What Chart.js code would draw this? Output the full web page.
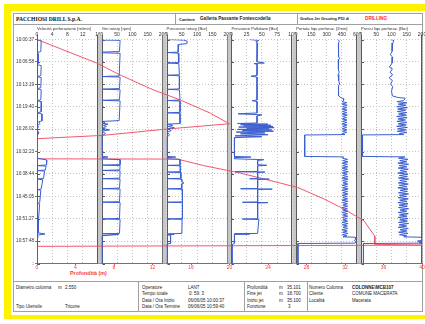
<!DOCTYPE html>
<html>
<head>
<meta charset="utf-8">
<script src="https://cdn.jsdelivr.net/npm/chart.js@4.4.1/dist/chart.umd.min.js"></script>
<style>
  body { margin: 0; width: 425px; height: 324px; overflow: hidden; background: #fff; position: relative; font-family: "Liberation Sans", Arial, sans-serif; }
  #yellow { position: absolute; left: 4px; top: 4px; right: 0; bottom: 5px; background: #fff200; }
  #sheet { position: absolute; left: 11px; top: 11px; right: 0; bottom: 9px; background: #fff; }
  #box { position: absolute; left: 13px; top: 13px; width: 410px; height: 299px; border: 1px solid #a0a0a0; box-sizing: border-box; }
  .rule { position: absolute; background: #a0a0a0; }
  .t { position: absolute; white-space: nowrap; line-height: 1; font-size: 4.5px; color: #222; }
  .b { font-weight: bold; }
  canvas { position: absolute; left: 0; top: 0; }
</style>
</head>
<body>
<div id="yellow"></div>
<div id="sheet"></div>
<div id="box"></div>

<!-- header -->
<div class="rule" style="left:13px;top:24px;width:410px;height:1px"></div>
<div class="rule" style="left:175px;top:13px;width:1px;height:11px"></div>
<div class="rule" style="left:297px;top:13px;width:1px;height:11px"></div>
<div class="t b" style="left:16px;top:16.5px;font-size:5.6px;font-family:'Liberation Serif',serif;color:#111">PACCHIOSI DRILL S.p.A.</div>
<div class="t b" style="left:179px;top:17.5px;font-size:4px">Cantiere</div>
<div class="t b" style="left:200px;top:17px;font-size:4.6px">Galleria Passante Fontescodella</div>
<div class="t b" style="left:300px;top:17.5px;font-size:3.8px">Grafico Jet Grouting P53 di</div>
<div class="t b" style="left:365px;top:17px;font-size:4.7px;color:#ff2a2a">DRILLING</div>

<!-- depth axis title -->
<div class="t b" style="left:70px;top:270.5px;font-size:5.4px;color:#f03c3c">Profondità (m)</div>

<!-- footer -->
<div class="rule" style="left:13px;top:281px;width:410px;height:1px"></div>
<div class="rule" style="left:138px;top:281px;width:1px;height:31px"></div>
<div class="rule" style="left:244px;top:281px;width:1px;height:31px"></div>
<div class="rule" style="left:307px;top:281px;width:1px;height:31px"></div>

<div class="t" style="left:16px;top:285.7px">Diametro colonna</div>
<div class="t" style="left:58px;top:285.7px">m</div>
<div class="t" style="left:65px;top:285.7px">2.550</div>
<div class="t" style="left:16px;top:305.2px">Tipo Utensile</div>
<div class="t" style="left:65px;top:305.2px">Tricone</div>

<div class="t" style="left:142px;top:285.7px">Operatore</div>
<div class="t" style="left:188px;top:285.7px">LANT</div>
<div class="t" style="left:142px;top:292.2px">Tempo totale</div>
<div class="t" style="left:189px;top:292.2px">0: 59: 3</div>
<div class="t" style="left:142px;top:298.7px">Data / Ora Inizio</div>
<div class="t" style="left:188px;top:298.7px">06/06/05 10:00:37</div>
<div class="t" style="left:142px;top:305.2px">Data / Ora Termine</div>
<div class="t" style="left:188px;top:305.2px">06/06/05 10:59:40</div>

<div class="t" style="left:247px;top:285.7px">Profondità</div>
<div class="t" style="left:279px;top:285.7px">m</div>
<div class="t" style="left:287px;top:285.7px">35.101</div>
<div class="t" style="left:247px;top:292.2px">Fine jet</div>
<div class="t" style="left:279px;top:292.2px">m</div>
<div class="t" style="left:287px;top:292.2px">18.700</div>
<div class="t" style="left:247px;top:298.7px">Inizio jet</div>
<div class="t" style="left:279px;top:298.7px">m</div>
<div class="t" style="left:287px;top:298.7px">35.100</div>
<div class="t" style="left:247px;top:305.2px">Funzione</div>
<div class="t" style="left:288px;top:305.2px">3</div>

<div class="t" style="left:309px;top:285.7px">Numero Colonna</div>
<div class="t b" style="left:352px;top:285.7px">COLONNE\MCB107</div>
<div class="t" style="left:309px;top:292.2px">Cliente</div>
<div class="t" style="left:352px;top:292.2px">COMUNE MACERATA</div>
<div class="t" style="left:309px;top:298.7px">Località</div>
<div class="t" style="left:352px;top:298.7px">Macerata</div>

<canvas id="log" width="425" height="324"></canvas>

<script>
// time axis: seconds after 10:00:37, one label every 381.2 s
const TICK_STEP = 381.2;
const timeLabels = ['10:00:37', '10:06:58', '10:13:19', '10:19:40', '10:26:02', '10:32:23',
  '10:38:44', '10:45:05', '10:51:27', '10:57:48', '::'];

const velTicks = [0, 4, 8, 12, 16];
const giriTicks = [0, 50, 100, 150, 200];
const rotTicks = [0, 50, 100, 150, 200];
const pullTicks = [0, 25, 50, 75, 100];
const portTicks = [0, 150, 300, 450, 600];
const liqTicks = [0, 50, 100, 150, 200];
const depthTicks = [0, 4, 8, 12, 16, 20, 24, 28, 32, 36, 40];

// [value, seconds]
const velocita = [[0,0],[1.1,17],[1.0,205],[0,222],[0.3,240],[0.3,410],[0,427],[1.1,445],[1.0,615],[0,632],
  [1.1,650],[1.0,820],[0,837],[1.1,855],[1.0,1025],[0,1042],[1.2,1060],[1.1,1230],[0,1248],[1.2,1265],
  [1.3,1384],[0.4,1401],[0.8,1430],[0.2,1460],[0.3,1500],[0,1530],[0.5,1590],[0,1640],[0,2017],
  [2.6,2051],[2.5,2136],[0,2145],[2.4,2155],[2.2,2222],[0,2230],[2.0,2240],[1.7,2365],[0,2375],
  [1.5,2385],[1.1,2546],[0,2555],[1.0,2565],[0.7,2780],[0,2790],[0.7,2800],[0.4,3060],[0,3068],
  [0.4,3078],[0.3,3290],[2.1,3310],[0,3330],[0.3,3360],[0,3400],[0,3812]];

const giri = [[0,0],[0,10],[60,14],[58,205],[0,215],[0,225],[60,235],[57,620],[0,630],[60,640],
  [58,835],[0,845],[60,855],[58,1025],[0,1035],[60,1045],[57,1380],[0,1395],[10,1410],[3,1425],
  [20,1440],[5,1460],[15,1480],[2,1510],[25,1540],[0,1560],[12,1600],[0,1640],[0,1990],[20,2000],
  [0,2010],[0,2030],[60,2045],[60,2130],[0,2138],[60,2146],[59,2220],[0,2228],[60,2236],[59,2360],
  [0,2368],[60,2376],[58,2530],[0,2538],[60,2546],[58,2760],[0,2768],[60,2776],[58,3045],[0,3053],
  [60,3061],[58,3300],[0,3305],[55,3320],[0,3340],[0,3812]];

const pressRotary = [[5,0],[55,10],[68,30],[66,70],[40,85],[38,215],[5,222],[38,232],[40,390],[5,400],
  [40,410],[42,600],[5,608],[42,618],[42,840],[5,848],[42,858],[44,1030],[5,1038],[44,1048],[44,1240],
  [5,1248],[44,1256],[44,1430],[5,1440],[20,1460],[5,1480],[25,1500],[3,1520],[15,1550],[2,1580],
  [10,1620],[2,1660],[2,1990],[30,2000],[2,2010],[2,2030],[44,2040],[44,2136],[5,2142],[45,2150],
  [45,2250],[5,2256],[46,2264],[47,2362],[5,2368],[48,2376],[50,2420],[57,2440],[48,2460],[50,2535],
  [5,2541],[51,2549],[52,2763],[5,2769],[52,2777],[52,3047],[5,3053],[51,3061],[50,3300],[5,3308],
  [25,3316],[5,3324],[13,3332],[13,3469],[2,3480],[2,3812]];

const pressPulldown = [[30,0],[45,17],[40,40],[43,60],[42,380],[54,400],[37,410],[42,420],[42,610],
  [32,625],[42,640],[42,1030],[34,1042],[42,1055],[42,1250],[11,1265],[50,1282],[42,1300],[42,1420],
  [10,1430],[60,1440],[15,1450],[65,1460],[20,1470],[68,1480],[12,1490],[70,1500],[25,1510],[62,1520],
  [10,1530],[66,1540],[18,1550],[69,1560],[8,1575],[55,1590],[15,1605],[60,1620],[6,1640],[50,1655],
  [5,1670],[5,1990],[32,2000],[5,2010],[5,2030],[53,2045],[43,2060],[43,2130],[58,2140],[43,2150],
  [43,2245],[6,2250],[55,2256],[43,2262],[43,2365],[30,2370],[62,2376],[43,2382],[43,2535],[15,2540],
  [67,2546],[43,2552],[43,2765],[18,2770],[60,2776],[43,2782],[43,3050],[18,3056],[45,3062],[43,3300],
  [5,3306],[30,3312],[5,3318],[5,3469],[1,3490],[1,3812]];

const portata = [[410,0],[425,30],[415,60],[418,150],[412,250],[420,300],[430,320],[418,340],[415,500],
  [422,560],[412,600],[418,700],[428,760],[416,790],[418,900],[415,960],[440,990],[470,1010],[465,1045],
  [452,1060],[498,1075],[450,1100],[502,1118],[455,1142],[496,1160],[451,1184],[500,1202],[454,1226],
  [497,1244],[450,1268],[503,1286],[456,1310],[495,1328],[452,1352],[500,1370],[455,1394],[498,1412],
  [450,1436],[501,1454],[456,1478],[496,1496],[452,1520],[500,1538],[455,1562],[497,1580],[452,1604],
  [480,1618],[83,1625],[85,1700],[82,1800],[84,1900],[83,1990],[467,1998],
  [455,2020],[505,2040],[458,2062],[510,2082],[452,2104],[503,2124],[456,2146],[508,2166],[450,2188],
  [505,2208],[457,2230],[512,2250],[453,2272],[502,2292],[458,2314],[507,2334],[451,2356],[510,2376],
  [455,2398],[504,2418],[459,2440],[508,2460],[452,2482],[503,2502],[456,2524],[511,2544],[450,2566],
  [505,2586],[457,2608],[509,2628],[453,2650],[502,2670],[458,2692],[506,2712],[451,2734],[510,2754],
  [455,2776],[504,2796],[459,2818],[507,2838],[452,2860],[503,2880],[456,2902],[510,2922],[450,2944],
  [505,2964],[457,2986],[508,3006],[453,3028],[502,3048],[458,3070],[506,3090],[451,3112],[510,3132],
  [455,3154],[504,3174],[459,3196],[507,3216],[452,3238],[503,3258],[456,3280],[509,3300],[454,3322],
  [500,3342],[460,3358],[580,3365],[585,3400],[570,3420],[590,3440],[580,3465],[17,3472],[17,3812]];

const pressLiquido = [[100,0],[108,20],[104,60],[102,200],[96,260],[104,300],[102,400],[93,470],[103,500],
  [95,560],[104,600],[92,650],[103,700],[97,760],[104,800],[100,880],[103,960],[120,985],[145,1000],[140,1040],
  [118,1058],[150,1076],[122,1100],[148,1118],[117,1142],[152,1160],[120,1184],[147,1202],[119,1226],
  [150,1244],[123,1268],[149,1286],[117,1310],[151,1328],[121,1352],[146,1370],[118,1394],[150,1412],
  [122,1436],[148,1454],[117,1478],[152,1496],[120,1520],[147,1538],[119,1562],[150,1580],[125,1604],
  [140,1618],[5,1624],[5,1990],[144,1998],
  [123,2020],[154,2040],[127,2062],[150,2082],[121,2104],[156,2124],[125,2146],[151,2166],[122,2188],
  [155,2208],[128,2230],[150,2250],[121,2272],[154,2292],[126,2314],[152,2334],[123,2356],[156,2376],
  [127,2398],[150,2418],[122,2440],[155,2460],[125,2482],[151,2502],[121,2524],[154,2544],[128,2566],
  [152,2586],[123,2608],[156,2628],[126,2650],[150,2670],[122,2692],[155,2712],[127,2734],[151,2754],
  [121,2776],[154,2796],[125,2818],[152,2838],[123,2860],[156,2880],[128,2902],[150,2922],[122,2944],
  [155,2964],[126,2986],[151,3006],[121,3028],[154,3048],[127,3070],[152,3090],[123,3112],[156,3132],
  [125,3154],[150,3174],[122,3196],[155,3216],[128,3238],[151,3258],[123,3280],[154,3300],[126,3322],
  [150,3342],[140,3358],[198,3366],[200,3420],[185,3430],[200,3440],[190,3455],[200,3465],[8,3472],[8,3812]];

// depth [m, seconds]
const profondita = [[0,0],[6.2,400],[8.6,601],[12.1,858],[14.9,1030],[18.0,1253],[20.0,1434],[13.2,1528],
  [6.9,1631],[0,1688],[0,2031],[14.6,2035],[17.3,2146],[20.8,2261],[23.5,2369],[27.1,2519],[29.8,2713],
  [31.9,2885],[34.0,3091],[35.1,3348],[35.1,3485],[40,3500],[0,3520],[0,3812]];

const BLUE = '#3b5fd0';
const RED = '#f03c3c';
const PANEL_W = 61;
const GAP_W = 3.8;
const TOP_H = 14;
const PANELS = ['p1', 'p2', 'p3', 'p4', 'p5', 'p6'];

Chart.defaults.font.family = "'Liberation Sans', Arial, sans-serif";

const panelAxis = (title, ticks) => ({
  type: 'linear', position: 'top', stack: 'panels', stackWeight: PANEL_W,
  min: ticks[0], max: ticks[ticks.length - 1],
  afterBuildTicks: (s) => { s.ticks = ticks.map((v) => ({ value: v })); },
  afterFit: (s) => { s.height = TOP_H; s.paddingLeft = 0; s.paddingRight = 0; },
  title: { display: true, text: title, align: 'start', color: '#333', font: { size: 4.2, lineHeight: 1.2 }, padding: { top: 1.3, bottom: 0 } },
  ticks: { color: '#333', font: { size: 5, lineHeight: 1 }, padding: 2, maxRotation: 0, autoSkip: false },
  grid: { color: '#c4c4c4', drawTicks: false },
  border: { display: false, dash: [1, 2] }
});

const gapAxis = () => ({
  type: 'linear', position: 'top', stack: 'panels', stackWeight: GAP_W,
  afterFit: (s) => { s.height = TOP_H; s.paddingLeft = 0; s.paddingRight = 0; },
  ticks: { display: false }, grid: { display: false }, border: { display: false }
});

const panelFrame = {
  id: 'panelFrame',
  beforeDatasetsDraw(chart) {
    const { ctx, chartArea: a, scales } = chart;
    const yScale = scales.y;
    const sorted = PANELS.map((id) => scales[id]).sort((m, n) => m.left - n.left);
    ctx.save();
    sorted.forEach((s, i) => {
      if (i > 0) {
        const prev = sorted[i - 1];
        ctx.fillStyle = '#c6c6c6';
        ctx.fillRect(prev.right, a.top - 5, s.left - prev.right, a.bottom - a.top + 5);
      }
      ctx.strokeStyle = '#5a5a5a';
      ctx.lineWidth = 1;
      ctx.beginPath();
      const l = Math.round(s.left) + 0.5;
      const r = Math.round(s.right) - 0.5;
      ctx.moveTo(l, a.top - 5); ctx.lineTo(l, a.bottom);
      ctx.moveTo(r, a.top - 5); ctx.lineTo(r, a.bottom);
      yScale.ticks.forEach((t) => {
        const y = Math.round(yScale.getPixelForValue(t.value)) + 0.5;
        ctx.moveTo(l, y); ctx.lineTo(l + 2.5, y);
      });
      ctx.stroke();
    });
    ctx.restore();
  }
};

const line = (data, axis, color) => ({
  data, xAxisID: axis, yAxisID: 'y', borderColor: color, borderWidth: 1,
  pointRadius: 0, tension: 0, fill: false
});

// top boxes are laid out in reverse order, so the panels are listed right to left
new Chart(document.getElementById('log'), {
  type: 'line',
  data: {
    datasets: [
      line(velocita, 'p1', BLUE),
      line(giri, 'p2', BLUE),
      line(pressRotary, 'p3', BLUE),
      line(pressPulldown, 'p4', BLUE),
      line(portata, 'p5', BLUE),
      line(pressLiquido, 'p6', BLUE),
      line(profondita, 'depth', '#f2566e')
    ]
  },
  options: {
    responsive: false,
    animation: false,
    devicePixelRatio: 1,
    layout: { padding: { left: 0, right: 3, top: 39.5 - TOP_H, bottom: 50.5 } },
    plugins: { legend: { display: false }, tooltip: { enabled: false } },
    scales: {
      p6: panelAxis('Pressi liqu perforaz. [Bar]', liqTicks),
      g5: gapAxis(),
      p5: panelAxis('Portata liqu perforaz. [l/min]', portTicks),
      g4: gapAxis(),
      p4: panelAxis('Pressione Pulldown [Bar]', pullTicks),
      g3: gapAxis(),
      p3: panelAxis('Pressione rotary [Bar]', rotTicks),
      g2: gapAxis(),
      p2: panelAxis('Giri rotary [rpm]', giriTicks),
      g1: gapAxis(),
      p1: panelAxis('Velocità perforazione [m/min]', velTicks),
      depth: {
        type: 'linear', position: 'bottom', min: 0, max: 40,
        afterBuildTicks: (s) => { s.ticks = depthTicks.map((v) => ({ value: v })); },
        afterFit: (s) => { s.height = 10; s.paddingLeft = 0; s.paddingRight = 0; },
        ticks: { color: RED, font: { size: 5, lineHeight: 1 }, padding: 0, maxRotation: 0, autoSkip: false },
        grid: { drawOnChartArea: false, color: RED, tickLength: 1.5 },
        border: { color: RED, width: 1 }
      },
      y: {
        type: 'linear', position: 'left', reverse: true, min: 0, max: 10 * TICK_STEP,
        afterBuildTicks: (s) => { s.ticks = timeLabels.map((_, i) => ({ value: i * TICK_STEP })); },
        afterFit: (s) => { s.width = 37; },
        ticks: { color: '#333', font: { size: 4.6 }, padding: 1, autoSkip: false, callback: (v, i) => timeLabels[i] },
        grid: { color: '#c4c4c4', tickLength: 2, tickColor: '#777' },
        border: { display: false, dash: [1, 2] }
      }
    }
  },
  plugins: [panelFrame]
});
</script>
</body>
</html>
